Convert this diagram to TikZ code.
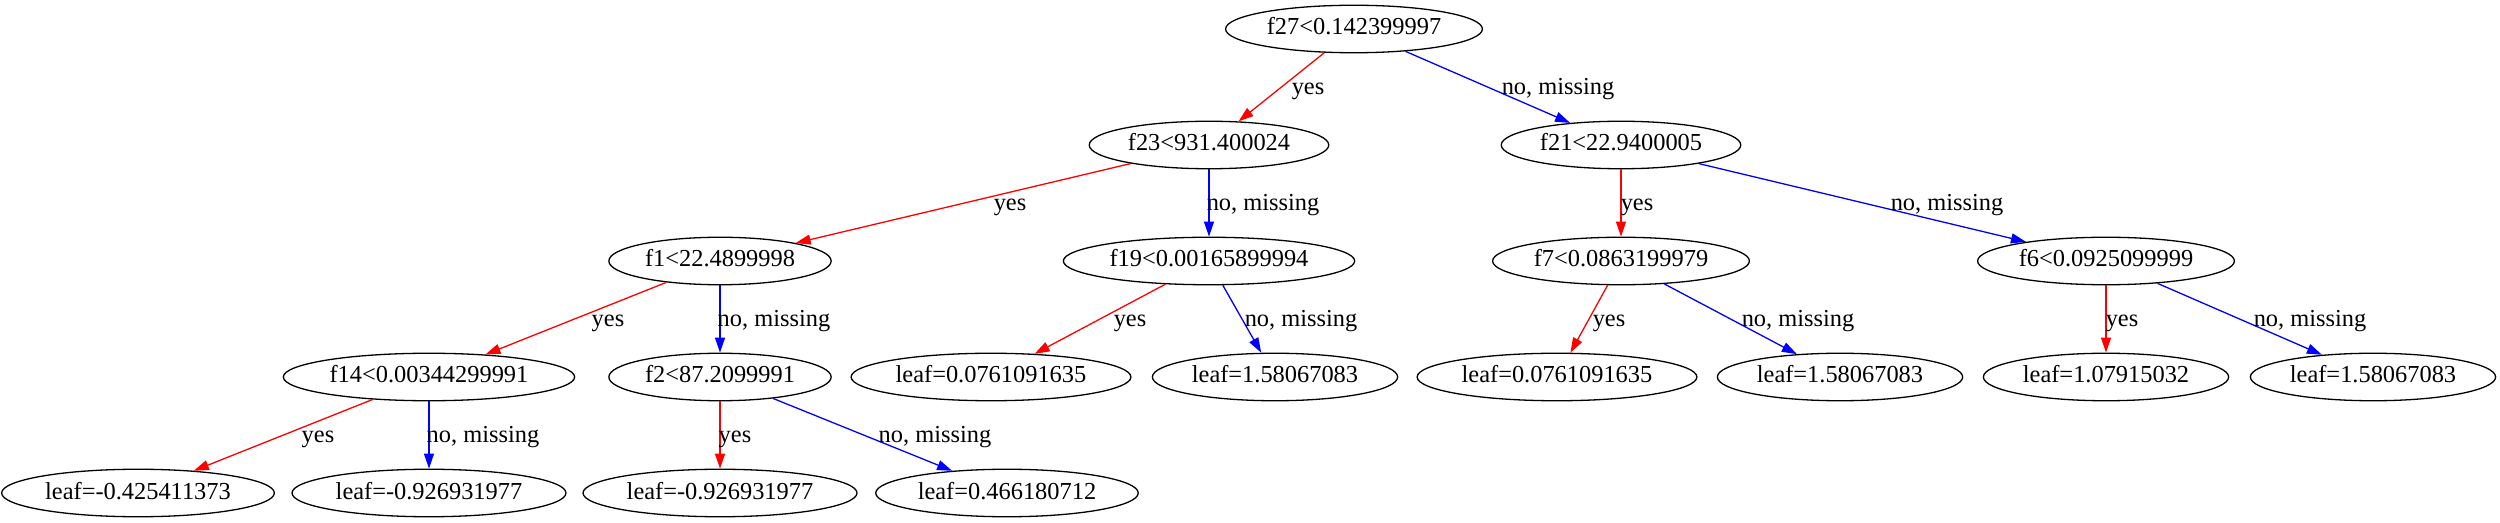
\documentclass[tikz,border=0pt]{standalone}
\usepackage{fontspec}
\setmainfont{Liberation Serif}
\usetikzlibrary{shapes.geometric,arrows.meta}

\begin{document}
\begin{tikzpicture}[x=0.5pt,y=-0.5pt,
		tnode/.style={draw,ellipse,line width=0.65pt,inner xsep=1.8pt,inner ysep=0pt,minimum height=23.75pt,text height=8pt,text depth=2pt,font=\fontsize{12.2}{14}\selectfont},
		elabel/.style={inner sep=0pt,text height=8pt,text depth=2pt,font=\fontsize{12.2}{14}\selectfont},
		yesedge/.style={draw=red,line width=0.65pt,-{Triangle[length=7.5pt,width=5pt]}},
		noedge/.style={draw=blue,line width=0.65pt,-{Triangle[length=7.5pt,width=5pt]}}]
	\useasboundingbox (0,0) rectangle (2500,523);
	\node[tnode] (f27) at (1354,29) {f27<0.142399997};
	\node[tnode] (f23) at (1209,145) {f23<931.400024};
	\node[tnode] (f21) at (1621,145) {f21<22.9400005};
	\node[tnode] (f1) at (720,261) {f1<22.4899998};
	\node[tnode] (f19) at (1209,261) {f19<0.00165899994};
	\node[tnode] (f7) at (1621,261) {f7<0.0863199979};
	\node[tnode] (f6) at (2106,261) {f6<0.0925099999};
	\node[tnode] (f14) at (429,377) {f14<0.00344299991};
	\node[tnode] (f2) at (720,377) {f2<87.2099991};
	\node[tnode] (leaf19a) at (991,377) {leaf=0.0761091635};
	\node[tnode] (leaf19b) at (1275,377) {leaf=1.58067083};
	\node[tnode] (leaf7a) at (1557,377) {leaf=0.0761091635};
	\node[tnode] (leaf7b) at (1840,377) {leaf=1.58067083};
	\node[tnode] (leaf6a) at (2106,377) {leaf=1.07915032};
	\node[tnode] (leaf6b) at (2373,377) {leaf=1.58067083};
	\node[tnode] (leaf14a) at (138,493) {leaf=-0.425411373};
	\node[tnode] (leaf14b) at (429,493) {leaf=-0.926931977};
	\node[tnode] (leaf2a) at (720,493) {leaf=-0.926931977};
	\node[tnode] (leaf2b) at (1007,493) {leaf=0.466180712};

	\draw[yesedge] (f27) -- (f23) node[elabel] at (1308,89) {yes};
	\draw[noedge] (f27) -- (f21) node[elabel] at (1558,89) {no, missing};
	\draw[yesedge] (f23) -- (f1) node[elabel] at (1010,205) {yes};
	\draw[noedge] (f23) -- (f19) node[elabel] at (1263,205) {no, missing};
	\draw[yesedge] (f21) -- (f7) node[elabel] at (1637,205) {yes};
	\draw[noedge] (f21) -- (f6) node[elabel] at (1947,205) {no, missing};
	\draw[yesedge] (f1) -- (f14) node[elabel] at (608,321) {yes};
	\draw[noedge] (f1) -- (f2) node[elabel] at (774,321) {no, missing};
	\draw[yesedge] (f19) -- (leaf19a) node[elabel] at (1130,321) {yes};
	\draw[noedge] (f19) -- (leaf19b) node[elabel] at (1301,321) {no, missing};
	\draw[yesedge] (f7) -- (leaf7a) node[elabel] at (1609,321) {yes};
	\draw[noedge] (f7) -- (leaf7b) node[elabel] at (1798,321) {no, missing};
	\draw[yesedge] (f6) -- (leaf6a) node[elabel] at (2122,321) {yes};
	\draw[noedge] (f6) -- (leaf6b) node[elabel] at (2310,321) {no, missing};
	\draw[yesedge] (f14) -- (leaf14a) node[elabel] at (318,437) {yes};
	\draw[noedge] (f14) -- (leaf14b) node[elabel] at (483,437) {no, missing};
	\draw[yesedge] (f2) -- (leaf2a) node[elabel] at (735,437) {yes};
	\draw[noedge] (f2) -- (leaf2b) node[elabel] at (935,437) {no, missing};
\end{tikzpicture}
\end{document}
